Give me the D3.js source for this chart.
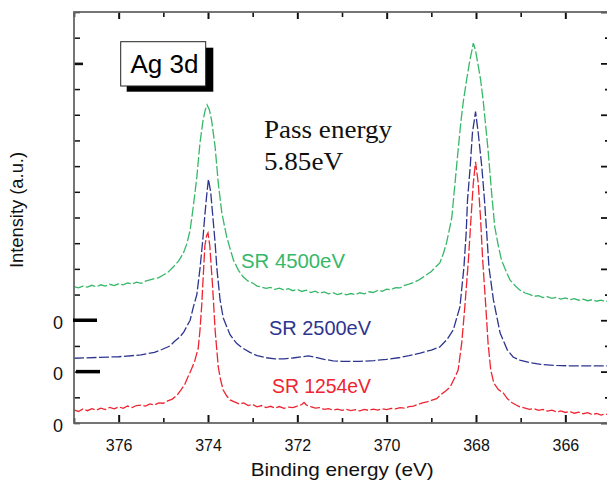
<!DOCTYPE html>
<html><head><meta charset="utf-8">
<script src="https://cdn.jsdelivr.net/npm/d3@7"></script>
<style>body{margin:0;background:#fff}svg{display:block}</style>
</head><body><svg id="c" width="607" height="484"></svg>
<script>
// ---- data ----
const xMajorTicks = [376, 374, 372, 370, 368, 366];
const xMinorTicks = [377, 375, 373, 371, 369, 367, 365];
const yTicks = [0,1,2,3,4,5,6,7,8,9,10,11,12,13,14,15,16];
const yBoldTick = [14];
const zeroLevels = [4, 2, 0];
const zeroLabels = ["0", "0", "0"];
const seriesNames = ["SR 4500eV", "SR 2500eV", "SR 1254eV"];
const titleText = "Ag 3d";
const noteLines = ["Pass energy", "5.85eV"];
const xLabel = "Binding energy (eV)";
const yLabel = "Intensity (a.u.)";

const green = [
[377.0,5.31],[376.9,5.26],[376.8,5.33],[376.7,5.29],[376.6,5.36],[376.5,5.30],[376.4,5.38],[376.3,5.33],
[376.2,5.40],[376.1,5.35],[376.0,5.42],[375.9,5.38],[375.8,5.45],[375.7,5.41],[375.6,5.48],[375.5,5.44],
[375.4,5.52],[375.3,5.57],[375.2,5.62],[375.1,5.66],[375.0,5.76],[374.9,5.86],[374.78,6.07],[374.66,6.30],
[374.55,6.62],[374.47,7.0],[374.40,7.51],[374.33,8.41],[374.25,9.58],[374.18,10.90],[374.11,11.79],[374.06,12.2],
[374.02,12.38],[373.97,12.2],[373.92,11.79],[373.84,10.74],[373.77,9.34],[373.69,8.17],[373.58,7.24],[373.50,6.75],
[373.43,6.34],[373.32,5.95],[373.21,5.68],[373.1,5.52],[373.0,5.45],[372.9,5.33],[372.8,5.29],[372.7,5.24],
[372.6,5.28],[372.5,5.20],[372.4,5.25],[372.3,5.18],[372.2,5.23],[372.1,5.15],[372.0,5.20],[371.9,5.12],
[371.8,5.17],[371.7,5.08],[371.6,5.13],[371.5,5.05],[371.4,5.10],[371.3,5.03],[371.2,5.07],[371.1,5.00],
[371.0,5.05],[370.9,4.99],[370.8,5.04],[370.7,5.00],[370.6,5.07],[370.5,5.03],[370.4,5.11],[370.3,5.08],
[370.2,5.16],[370.1,5.13],[370.0,5.21],[369.9,5.19],[369.8,5.27],[369.7,5.26],[369.6,5.36],[369.5,5.41],
[369.4,5.47],[369.3,5.55],[369.2,5.66],[369.1,5.78],[369.0,5.90],[368.9,6.08],[368.81,6.23],[368.73,6.6],
[368.66,7.01],[368.60,7.5],[368.54,8.02],[368.47,9.34],[368.40,10.63],[368.34,11.7],[368.28,12.57],[368.20,13.47],
[368.14,14.1],[368.09,14.52],[368.06,14.79],[368.01,14.5],[367.96,14.01],[367.90,13.4],[367.84,12.57],[367.73,10.63],
[367.65,8.95],[367.58,7.63],[367.50,6.9],[367.43,6.34],[367.3,5.80],[367.24,5.57],[367.1,5.30],[367.02,5.18],
[366.9,5.06],[366.8,5.01],[366.7,4.93],[366.6,4.96],[366.5,4.88],[366.4,4.92],[366.3,4.85],[366.2,4.89],
[366.1,4.82],[366.0,4.87],[365.9,4.80],[365.8,4.84],[365.7,4.78],[365.6,4.82],[365.5,4.76],[365.4,4.80],
[365.3,4.74],[365.2,4.78],[365.1,4.73],[365.0,4.76]
];

const blue = [
[377.0,2.52],[376.5,2.55],[376.0,2.58],[375.5,2.65],[375.2,2.75],[375.06,2.84],[374.85,3.0],[374.76,3.16],
[374.63,3.35],[374.54,3.55],[374.40,4.0],[374.33,4.5],[374.25,5.0],[374.18,6.0],[374.11,7.25],[374.07,8.1],
[374.03,8.85],[373.99,9.49],[373.94,9.0],[373.90,8.2],[373.84,7.0],[373.80,6.0],[373.73,4.8],[373.66,4.1],
[373.58,3.75],[373.51,3.45],[373.36,3.1],[373.21,2.9],[373.06,2.75],[372.9,2.62],[372.7,2.54],[372.5,2.50],
[372.3,2.50],[372.1,2.53],[371.9,2.58],[371.75,2.61],[371.6,2.56],[371.4,2.48],[371.2,2.42],[371.0,2.40],
[370.6,2.40],[370.28,2.43],[370.0,2.48],[369.7,2.55],[369.5,2.62],[369.25,2.72],[369.0,2.84],[368.81,2.96],
[368.65,3.25],[368.51,3.62],[368.36,4.52],[368.27,6.07],[368.22,7.40],[368.19,8.68],[368.13,9.97],[368.08,11.29],
[368.01,12.12],[367.95,11.29],[367.87,9.97],[367.81,8.68],[367.76,7.40],[367.71,6.07],[367.61,4.79],[367.46,3.50],
[367.3,2.85],[367.17,2.57],[367.02,2.45],[366.8,2.35],[366.55,2.28],[366.2,2.24],[365.8,2.22],[365.4,2.22],
[365.0,2.22]
];

const red = [
[377.0,0.51],[376.9,0.45],[376.8,0.55],[376.7,0.48],[376.6,0.56],[376.5,0.50],[376.4,0.58],[376.3,0.52],
[376.2,0.61],[376.1,0.55],[376.0,0.63],[375.9,0.57],[375.8,0.66],[375.7,0.60],[375.6,0.68],[375.5,0.70],
[375.4,0.66],[375.3,0.74],[375.2,0.70],[375.1,0.78],[375.0,0.77],[374.9,0.86],[374.8,0.93],[374.69,1.09],
[374.6,1.30],[374.52,1.5],[374.46,1.75],[374.38,2.05],[374.30,2.4],[374.22,2.9],[374.18,3.6],[374.14,4.6],
[374.11,5.6],[374.07,6.9],[374.03,7.3],[374.00,7.40],[373.96,6.9],[373.90,5.4],[373.84,3.6],[373.77,2.18],
[373.72,1.7],[373.66,1.28],[373.58,1.05],[373.51,0.90],[373.42,0.83],[373.3,0.74],[373.2,0.78],[373.1,0.68],
[373.0,0.72],[372.9,0.63],[372.8,0.68],[372.7,0.60],[372.6,0.65],[372.5,0.58],[372.4,0.64],[372.3,0.57],
[372.2,0.62],[372.1,0.60],[372.0,0.66],[371.9,0.72],[371.85,0.80],[371.8,0.70],[371.7,0.64],[371.6,0.58],
[371.5,0.60],[371.4,0.53],[371.3,0.56],[371.2,0.50],[371.1,0.54],[371.0,0.49],[370.9,0.53],[370.8,0.48],
[370.7,0.52],[370.6,0.47],[370.5,0.53],[370.4,0.49],[370.3,0.54],[370.2,0.50],[370.1,0.55],[370.0,0.52],
[369.9,0.57],[369.8,0.55],[369.7,0.60],[369.6,0.58],[369.5,0.64],[369.4,0.66],[369.3,0.72],[369.2,0.78],
[369.1,0.82],[369.0,0.88],[368.88,0.95],[368.79,1.1],[368.68,1.25],[368.58,1.40],[368.48,1.75],[368.40,2.06],
[368.32,3.11],[368.25,4.52],[368.17,6.34],[368.11,8.02],[368.06,9.34],[368.01,10.17],[367.95,9.34],[367.90,8.02],
[367.85,6.34],[367.78,4.52],[367.73,3.11],[367.67,2.06],[367.6,1.55],[367.5,1.30],[367.39,1.17],[367.3,0.95],
[367.2,0.80],[367.1,0.70],[367.02,0.63],[366.9,0.58],[366.8,0.53],[366.7,0.56],[366.6,0.49],[366.5,0.53],
[366.4,0.46],[366.3,0.50],[366.2,0.43],[366.1,0.47],[366.0,0.41],[365.9,0.45],[365.8,0.38],[365.7,0.42],
[365.6,0.36],[365.5,0.40],[365.4,0.33],[365.3,0.37],[365.2,0.31],[365.1,0.35],[365.0,0.31]
];

const seriesData = [green, blue, red];
const seriesColors = ["#36b868", "#2e3590", "#ee2430"];

// ---- drawing ----
const svg = d3.select("#c");
const L = 74, R = 610, T = 12, B = 423;
const x = d3.scaleLinear().domain([377, 365]).range([L, R]);
const y = d3.scaleLinear().domain([0, 16]).range([B, T]);
const sans = "'Liberation Sans', Arial, sans-serif";
const serif = "'Liberation Serif', 'Times New Roman', serif";

svg.append("defs").append("clipPath").attr("id", "clip")
  .append("rect").attr("x", L).attr("y", T).attr("width", R - L).attr("height", B - T);

// curves
const line = d3.line().x(d => x(d[0])).y(d => y(d[1]));
const gCurves = svg.append("g").attr("clip-path", "url(#clip)");
seriesData.forEach((s, i) => {
  gCurves.append("path").datum(s).attr("d", line)
    .attr("fill", "none").attr("stroke", seriesColors[i])
    .attr("stroke-width", 1.3).attr("stroke-dasharray", "10,2.5");
});

// axes ticks
function styleAxis(g, w) {
  g.select(".domain").remove();
  g.selectAll(".tick line").attr("stroke", "#111").attr("stroke-width", w);
}
svg.append("g").attr("transform", `translate(0,${B})`)
  .call(d3.axisBottom(x).tickValues(xMajorTicks).tickSize(-8).tickPadding(17).tickFormat(d3.format("d")))
  .call(g => { styleAxis(g, 2); g.selectAll("text").attr("font-family", sans).attr("font-size", 16).attr("fill", "#111"); });
svg.append("g").attr("transform", `translate(0,${B})`)
  .call(d3.axisBottom(x).tickValues(xMinorTicks).tickSize(-5).tickFormat(""))
  .call(g => styleAxis(g, 1.6));
svg.append("g").attr("transform", `translate(0,${T})`)
  .call(d3.axisTop(x).tickValues(xMajorTicks).tickSize(-7).tickFormat(""))
  .call(g => styleAxis(g, 2));
svg.append("g").attr("transform", `translate(0,${T})`)
  .call(d3.axisTop(x).tickValues(xMinorTicks).tickSize(-5).tickFormat(""))
  .call(g => styleAxis(g, 1.6));
svg.append("g").attr("transform", `translate(${L},0)`)
  .call(d3.axisLeft(y).tickValues(yTicks.filter(v => !yBoldTick.includes(v))).tickSize(-6).tickFormat(""))
  .call(g => styleAxis(g, 1.5));
svg.append("g").attr("transform", `translate(${L},0)`)
  .call(d3.axisLeft(y).tickValues(yBoldTick).tickSize(-9).tickFormat(""))
  .call(g => styleAxis(g, 2.6));
svg.append("g").attr("transform", `translate(${R},0)`)
  .call(d3.axisRight(y).tickValues(yTicks.filter(v => v % 2 === 0)).tickSize(-9).tickFormat(""))
  .call(g => styleAxis(g, 1.8));
svg.append("g").attr("transform", `translate(${R},0)`)
  .call(d3.axisRight(y).tickValues(yTicks.filter(v => v % 2 === 1)).tickSize(-5).tickFormat(""))
  .call(g => styleAxis(g, 1.8));

// frame
svg.append("rect").attr("x", L).attr("y", T).attr("width", R - L).attr("height", B - T)
  .attr("fill", "none").attr("stroke", "#666").attr("stroke-width", 1.8);

// zero markers
zeroLevels.forEach((v, i) => {
  if (v > 0) {
    svg.append("line").attr("x1", L - 1 + i * 3).attr("x2", L + 23 + i * 3)
      .attr("y1", y(v)).attr("y2", y(v)).attr("stroke", "#000").attr("stroke-width", 3.5);
  }
  svg.append("text").attr("x", 63).attr("y", y(v) + 8.5).attr("text-anchor", "end")
    .attr("font-family", sans).attr("font-size", 18).attr("fill", "#111").text(zeroLabels[i]);
});

// series labels
const labelPos = [[241, 268, 104], [269, 335, 102], [272, 393, 99]];
seriesNames.forEach((n, i) => {
  svg.append("text").attr("x", labelPos[i][0]).attr("y", labelPos[i][1])
    .attr("font-family", sans).attr("font-size", 21).attr("fill", seriesColors[i])
    .attr("textLength", labelPos[i][2]).attr("lengthAdjust", "spacingAndGlyphs").text(n);
});

// title box
svg.append("rect").attr("x", 126.7).attr("y", 47.7).attr("width", 86.6).attr("height", 44).attr("fill", "#000");
svg.append("rect").attr("x", 120.7).attr("y", 41.7).attr("width", 85).attr("height", 44.3)
  .attr("fill", "#fff").attr("stroke", "#222").attr("stroke-width", 1);
svg.append("text").attr("x", 130.5).attr("y", 72.5).attr("font-family", sans).attr("font-size", 25)
  .attr("fill", "#000").attr("textLength", 68).attr("lengthAdjust", "spacingAndGlyphs").text(titleText);

// note
svg.append("text").attr("x", 264).attr("y", 137.5).attr("font-family", serif).attr("font-size", 25)
  .attr("fill", "#111").attr("textLength", 128).attr("lengthAdjust", "spacingAndGlyphs").text(noteLines[0]);
svg.append("text").attr("x", 264).attr("y", 170).attr("font-family", serif).attr("font-size", 25)
  .attr("fill", "#111").attr("textLength", 79).attr("lengthAdjust", "spacingAndGlyphs").text(noteLines[1]);

// axis titles
svg.append("text").attr("x", 250.7).attr("y", 476).attr("font-family", sans).attr("font-size", 19)
  .attr("fill", "#111").attr("textLength", 183).attr("lengthAdjust", "spacingAndGlyphs").text(xLabel);
svg.append("text").attr("transform", "translate(23,210) rotate(-90)").attr("text-anchor", "middle")
  .attr("font-family", sans).attr("font-size", 18).attr("fill", "#111")
  .attr("textLength", 116).attr("lengthAdjust", "spacingAndGlyphs").text(yLabel);
</script></body></html>
